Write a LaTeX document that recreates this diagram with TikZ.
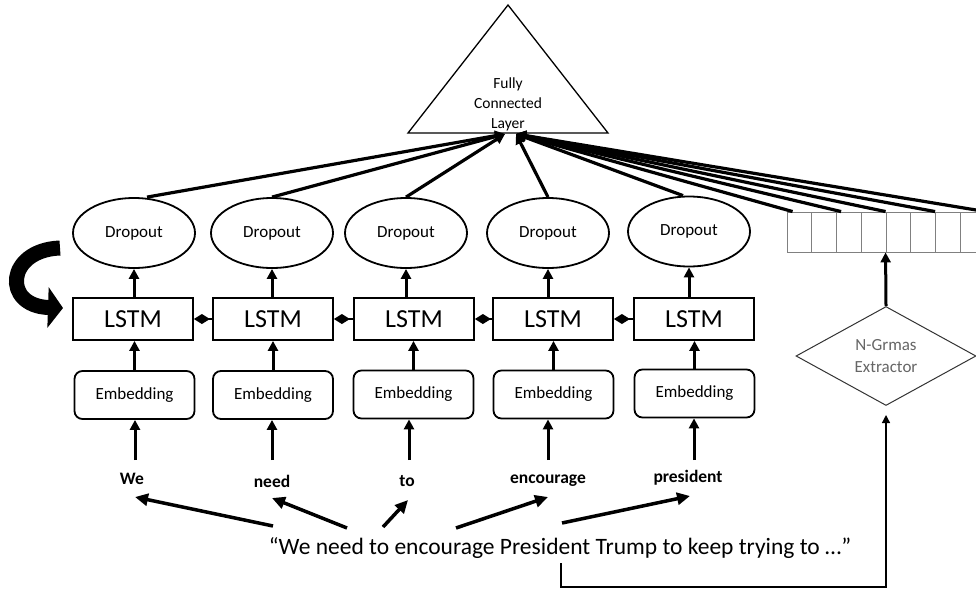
\documentclass[tikz,border=0pt]{standalone}
\usepackage{fontspec}
\setmainfont{Carlito}
\usetikzlibrary{arrows.meta,shapes.geometric,calc}
\begin{document}
\begin{tikzpicture}[x=1pt,y=-1pt,
  arr/.style={line width=3pt,-{Triangle[length=10pt,width=10pt]}},
  fan/.style={line width=3.2pt,-{Triangle[length=10pt,width=10pt]}},
  sarr/.style={line width=3.5pt,-{Triangle[length=13pt,width=12pt]}},
  drop/.style={ellipse,draw,line width=1.8pt,minimum width=122pt,minimum height=70pt,inner sep=0pt,font=\fontsize{17}{20}\selectfont},
  lstm/.style={rectangle,draw,line width=1.8pt,minimum width=120pt,minimum height=42pt,inner sep=0pt,font=\fontsize{26}{30}\selectfont},
  emb/.style={rectangle,rounded corners=8pt,draw,line width=1.8pt,minimum width=120pt,minimum height=48pt,inner sep=0pt,font=\fontsize{17}{20}\selectfont},
  word/.style={font=\bfseries\fontsize{17.5}{20}\selectfont,inner sep=0pt},
  link/.style={line width=2pt,{Diamond[length=16pt,width=10pt]}-},
  cell/.style={rectangle,draw=black!50,line width=0.9pt,minimum width=24.75pt,minimum height=40pt,inner sep=0pt},
]
\clip (0,0) rectangle (976,589);
\fill[white] (0,0) rectangle (976,589);

% Fully connected layer
\coordinate (apex) at (508,5);
\coordinate (bl) at (408,133);
\coordinate (br) at (608,133);
\draw[line width=1.3pt,line join=miter] (apex) -- (br) -- (bl) -- cycle;
\node[align=center,font=\fontsize{15.5}{20}\selectfont] (fcl) at (508,104) {Fully\\Connected\\Layer};
\coordinate (inL) at (505,134);
\coordinate (inR) at (516,134);

% Dropouts
\node[drop] (d1) at (134,233) {Dropout};
\node[drop] (d2) at (272,233) {Dropout};
\node[drop] (d3) at (406,233) {Dropout};
\node[drop] (d4) at (548,233) {Dropout};
\node[drop] (d5) at (689,231.5) {Dropout};

% LSTMs
\node[lstm] (l1) at (133,319) {LSTM};
\node[lstm] (l2) at (273,319) {LSTM};
\node[lstm] (l3) at (414,319) {LSTM};
\node[lstm] (l4) at (553,319) {LSTM};
\node[lstm] (l5) at (694,319) {LSTM};

% Embeddings
\node[emb] (e1) at (134.5,395) {Embedding};
\node[emb] (e2) at (273,395) {Embedding};
\node[emb] (e3) at (413.5,394.5) {Embedding};
\node[emb] (e4) at (553.5,394.5) {Embedding};
\node[emb] (e5) at (694.5,393.5) {Embedding};

% Words
\node[word] (w1) at (132,479) {We};
\node[word] (w2) at (272,481) {need};
\node[word] (w3) at (407,481) {to};
\node[word] (w4) at (548,481) {encourage};
\node[word] (w5) at (688,478) {president};

% Sentence
\node[font=\fontsize{23.5}{26}\selectfont,inner sep=0pt] (sent) at (560,548) {“We need to encourage President Trump to keep trying to …”};

% N-gram vector
\foreach \i in {0,...,7} \node[cell] (c\i) at ({799.375+24.75*\i},232) {};

% N-gram extractor
\node[diamond,draw=black!80,line width=1pt,minimum width=180pt,minimum height=99pt,inner sep=0pt,align=center,text=black!60,font=\fontsize{17}{22}\selectfont] (ng) at (886,356) {N-Grmas\\Extractor};

% fan into fully connected layer
\draw[fan] ([xshift=13pt]d1.north) -- (inL);
\draw[fan] (d2.north) -- (inL);
\draw[fan] (d3.north) -- (inL);
\draw[fan] (d4.north) -- (inR);
\draw[fan] ([xshift=-6pt]d5.north) -- (inR);
\draw[fan] ([xshift=6pt]c0.north west) -- (inR);
\draw[fan] ([xshift=5pt]c2.north west) -- (inR);
\draw[fan] (c4.north west) -- (inR);
\draw[fan] (c6.north west) -- (inR);
\draw[fan] (c7.north east) -- (inR);

% LSTM -> Dropout
\foreach \i in {1,...,5} \draw[arr] (d\i.south |- l\i.north) -- (d\i.south);
% Embedding -> LSTM
\foreach \i in {1,...,5} \draw[arr] (e\i.north) -- (e\i.north |- l\i.south);

% LSTM links
\draw[link] (l1.east) -- (l2.west);
\draw[link] (l2.east) -- (l3.west);
\draw[link] (l3.east) -- (l4.west);
\draw[link] (l4.east) -- (l5.west);

% word -> embedding
\coordinate (a1) at (135,460);
\coordinate (a2) at (272,460);
\coordinate (a3) at (409,460);
\coordinate (a4) at (548,460);
\coordinate (a5) at (694,460);
\foreach \i in {1,...,5} \draw[arr] (a\i) -- (a\i |- e\i.south);

% sentence -> words
\coordinate (s1) at (273,526); \coordinate (t1) at (135,497);
\coordinate (s2) at (347,528); \coordinate (t2) at (272,498);
\coordinate (s3) at (383,527); \coordinate (t3) at (408,500);
\coordinate (s4) at (456,528); \coordinate (t4) at (548,497);
\coordinate (s5) at (562,523); \coordinate (t5) at (690,496);
\foreach \i in {1,...,5} \draw[sarr] (s\i) -- (t\i);

% sentence -> n-gram extractor
\coordinate (b0) at (561,563);
\draw[line width=1.3pt,-{Triangle[length=8pt,width=8pt]}] (b0) -- ++(0,24) -| ([yshift=-9pt]ng.south);

% extractor -> vector
\draw[arr] (ng.north) -- (c4.south west);

% recurrent curved arrow
\coordinate (rs) at (60,248);
\coordinate (re) at (63,308);
\draw[line width=15pt,-{Triangle[length=15pt,width=40pt]}] (rs) .. controls (6,250) and (2,306) .. (re);
\end{tikzpicture}
\end{document}
